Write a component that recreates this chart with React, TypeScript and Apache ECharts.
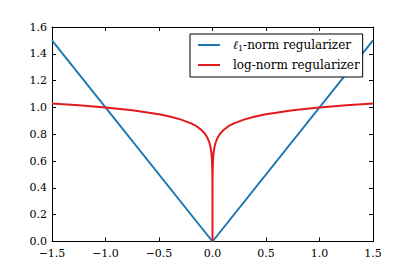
import React, { useEffect, useRef } from "react";
import * as echarts from "echarts";

const xTicks = [-1.5, -1.0, -0.5, 0.0, 0.5, 1.0, 1.5];
const yTicks = [0.0, 0.2, 0.4, 0.6, 0.8, 1.0, 1.2, 1.4, 1.6];

const l1X = [-1.5, 0, 1.5];
const l1Y = [1.5, 0, 1.5];

const logX = [
  -1.5, -1.25, -1.0, -0.75, -0.5, -0.4, -0.3, -0.2, -0.15, -0.1, -0.07, -0.05, -0.03, -0.02, -0.01, -0.005, -0.002, -0.0005, -0.00005,
  0,
  0.00005, 0.0005, 0.002, 0.005, 0.01, 0.02, 0.03, 0.05, 0.07, 0.1, 0.15, 0.2, 0.3, 0.4, 0.5, 0.75, 1.0, 1.25, 1.5,
];
const logY = [
  1.03, 1.017, 1.0, 0.979, 0.949, 0.932, 0.911, 0.881, 0.86, 0.83, 0.803, 0.778, 0.74, 0.71, 0.66, 0.608, 0.54, 0.437, 0.266,
  0,
  0.266, 0.437, 0.54, 0.608, 0.66, 0.71, 0.74, 0.778, 0.803, 0.83, 0.86, 0.881, 0.911, 0.932, 0.949, 0.979, 1.0, 1.017, 1.03,
];

const FONT = "DejaVu Serif";
const fmt = (v: number) => v.toFixed(1).replace("-", "\u2212");

export default function App() {
  const ref = useRef<HTMLDivElement>(null);
  useEffect(() => {
    const chart = echarts.init(ref.current!, null, { renderer: "svg" });
    const axisCommon = {
      axisLine: { show: true, onZero: false, lineStyle: { color: "#000", width: 1 } },
      axisTick: { show: true, inside: true, length: 4, lineStyle: { color: "#000" } },
      splitLine: { show: false },
    };
    chart.setOption({
      animation: false,
      backgroundColor: "#fff",
      textStyle: { fontFamily: FONT },
      grid: { left: 52, top: 27, right: 42, bottom: 35.5, containLabel: false },
      xAxis: [
        {
          type: "value",
          min: xTicks[0],
          max: xTicks[xTicks.length - 1],
          interval: 0.5,
          ...axisCommon,
          axisLabel: { formatter: fmt, fontFamily: FONT, fontSize: 11, color: "#000", margin: 6 },
        },
        {
          type: "value",
          position: "top",
          min: xTicks[0],
          max: xTicks[xTicks.length - 1],
          interval: 0.5,
          ...axisCommon,
          axisLabel: { show: false },
        },
      ],
      yAxis: [
        {
          type: "value",
          min: yTicks[0],
          max: yTicks[yTicks.length - 1],
          interval: 0.2,
          ...axisCommon,
          axisLabel: { formatter: (v: number) => v.toFixed(1), fontFamily: FONT, fontSize: 11, color: "#000", margin: 5 },
        },
        {
          type: "value",
          position: "right",
          min: yTicks[0],
          max: yTicks[yTicks.length - 1],
          interval: 0.2,
          ...axisCommon,
          axisLabel: { show: false },
        },
      ],
      legend: {
        orient: "vertical",
        left: 190,
        top: 34,
        backgroundColor: "#fff",
        borderColor: "#000",
        borderWidth: 1,
        borderRadius: 0,
        padding: [4, 3, 5, 8],
        itemGap: 6,
        icon: "rect",
        itemWidth: 22,
        itemHeight: 2,
        textStyle: {
          fontFamily: FONT,
          fontSize: 12,
          lineHeight: 14,
          color: "#000",
          padding: [0, 0, 0, 8],
          rich: {
            sub: { fontFamily: FONT, fontSize: 8, lineHeight: 14, verticalAlign: "bottom", padding: [5, 0, 0, 0] },
            n: { fontFamily: FONT, fontSize: 12, lineHeight: 14, fontStyle: "italic" },
          },
        },
        formatter: (name: string) =>
          name === "l1" ? "{n|\u2113}{sub|1}-norm regularizer" : "log-norm regularizer",
        data: ["l1", "log"],
      },
      series: [
        {
          name: "l1",
          type: "line",
          data: l1X.map((x, i) => [x, l1Y[i]]),
          symbol: "none",
          lineStyle: { color: "#1f77b4", width: 2 },
          itemStyle: { color: "#1f77b4" },
        },
        {
          name: "log",
          type: "line",
          data: logX.map((x, i) => [x, logY[i]]),
          symbol: "none",
          lineStyle: { color: "#e31a1c", width: 2 },
          itemStyle: { color: "#e31a1c" },
        },
      ],
    });
    return () => chart.dispose();
  }, []);
  return (
    <div
      ref={ref}
      style={{ position: "fixed", left: 0, top: 0, width: 415, height: 277 }}
    />
  );
}
